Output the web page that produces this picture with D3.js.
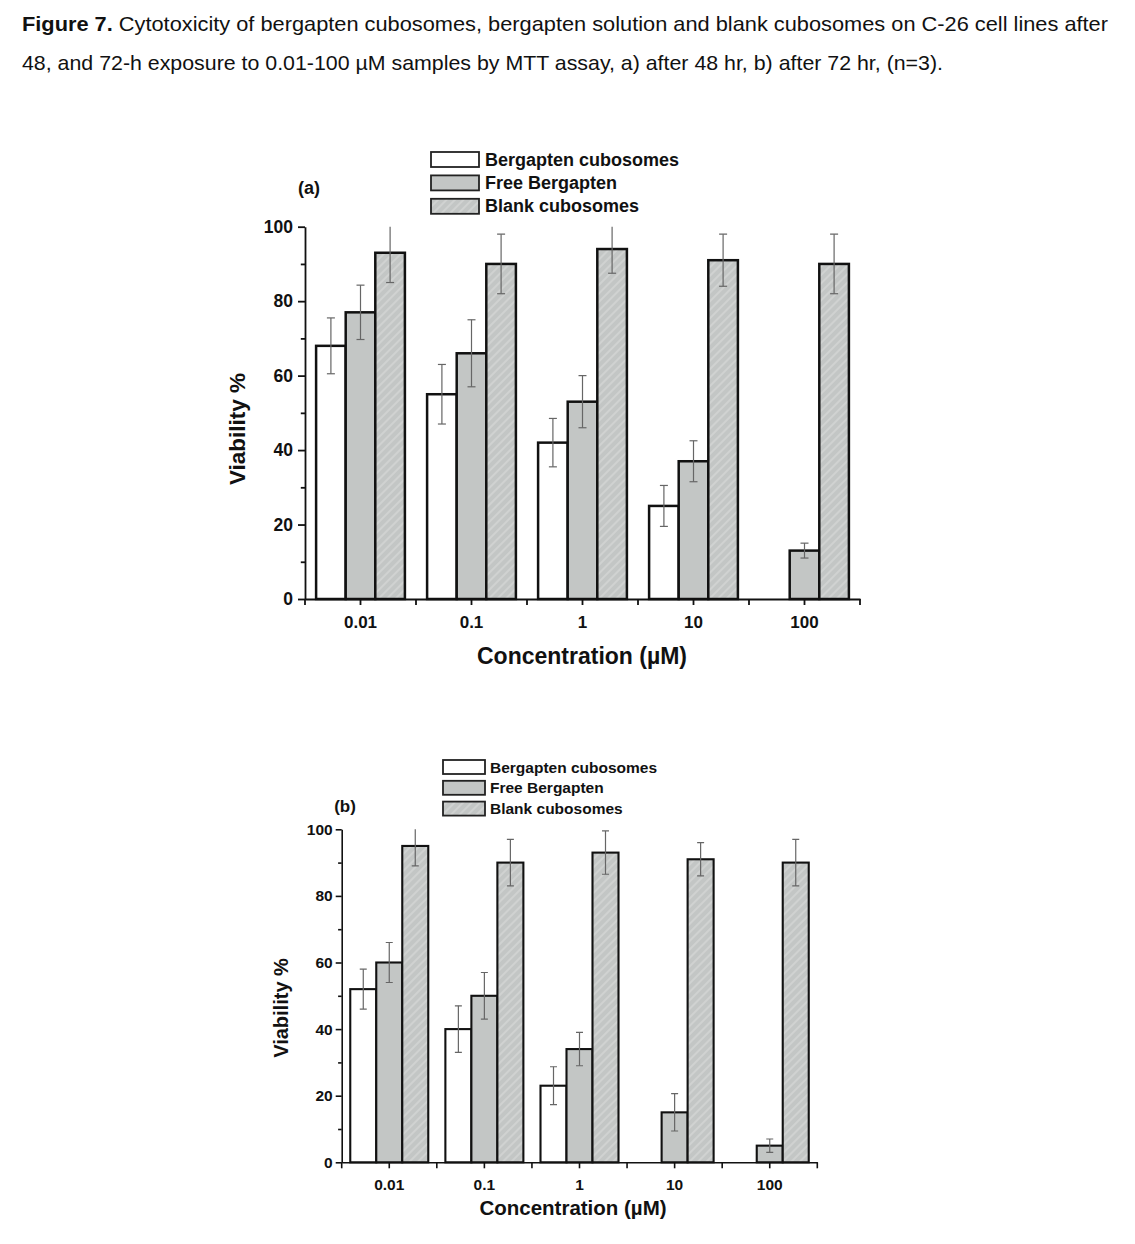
<!DOCTYPE html>
<html><head><meta charset="utf-8">
<script src="https://cdn.jsdelivr.net/npm/d3@7"></script>
<style>body{margin:0;background:#fff}</style>
</head><body>
<svg id="c" width="1135" height="1244"></svg>
<script>
// ---------- data ----------
const categories = ["0.01", "0.1", "1", "10", "100"];
const seriesNames = ["Bergapten cubosomes", "Free Bergapten", "Blank cubosomes"];
const yTicks = [0, 20, 40, 60, 80, 100];
const yMinorTicks = [10, 30, 50, 70, 90];

// (a) after 48 hr
const bergCubA = [68, 55, 42, 25, null];
const freeBergA = [77, 66, 53, 37, 13];
const blankCubA = [93, 90, 94, 91, 90];
const bergCubErrA = [7.5, 8, 6.5, 5.5, null];
const freeBergErrA = [7.3, 9, 7, 5.5, 2];
const blankCubErrA = [8, 8, 6.5, 7, 8];

// (b) after 72 hr
const bergCubB = [52, 40, 23, null, null];
const freeBergB = [60, 50, 34, 15, 5];
const blankCubB = [95, 90, 93, 91, 90];
const bergCubErrB = [6, 7, 5.7, null, null];
const freeBergErrB = [6, 7, 5, 5.6, 2];
const blankCubErrB = [6, 7, 6.5, 5, 7];

const captionLine1Bold = "Figure 7.";
const captionLine1 = " Cytotoxicity of bergapten cubosomes, bergapten solution and blank cubosomes on C-26 cell lines after";
const captionLine2 = "48, and 72-h exposure to 0.01-100 \u00b5M samples by MTT assay, a) after 48 hr, b) after 72 hr, (n=3).";

// ---------- drawing ----------
const svg = d3.select("#c");
const defs = svg.append("defs");
const GRAY = "#c3c6c5";
const hatch = defs.append("pattern").attr("id", "hatch")
  .attr("patternUnits", "userSpaceOnUse").attr("width", 6).attr("height", 6)
  .attr("patternTransform", "rotate(45)");
hatch.append("rect").attr("width", 6).attr("height", 6).attr("fill", GRAY);
hatch.append("line").attr("x1", 1).attr("y1", 0).attr("x2", 1).attr("y2", 6)
  .attr("stroke", "#dedede").attr("stroke-width", 1);
const fills = ["#ffffff", GRAY, "url(#hatch)"];

const AX_FONT = "'Liberation Sans', Arial, sans-serif";
const CAP_FONT = "'Liberation Sans Narrow', 'Liberation Sans', Arial, sans-serif";

// caption
const cap = svg.append("text").attr("x", 22).attr("y", 31)
  .attr("font-family", CAP_FONT)
  .attr("font-size", 21).attr("fill", "#111")
  .attr("textLength", 1086).attr("lengthAdjust", "spacingAndGlyphs");
cap.append("tspan").attr("font-weight", "bold").text(captionLine1Bold);
cap.append("tspan").text(captionLine1);
svg.append("text").attr("x", 22).attr("y", 70)
  .attr("font-family", CAP_FONT)
  .attr("font-size", 21).attr("fill", "#111")
  .attr("textLength", 921).attr("lengthAdjust", "spacingAndGlyphs")
  .text(captionLine2);

function drawChart(o) {
  const g = svg.append("g");
  const y = d3.scaleLinear().domain([0, 100]).range([o.yBot, o.yTop]);
  const x = d3.scaleBand().domain(categories).range([o.x0, o.x1]);
  const bw = x.bandwidth();
  const xs = d3.scaleBand().domain(seriesNames).range([bw * o.inner, bw * (1 - o.inner)]);

  const rows = [];
  categories.forEach((c, i) => {
    seriesNames.forEach((s, j) => {
      const v = o.values[j][i];
      if (v !== null) rows.push({ c, s, j, v, e: o.errs[j][i] });
    });
  });

  // bars
  g.append("g").selectAll("rect").data(rows).join("rect")
    .attr("x", d => x(d.c) + xs(d.s))
    .attr("y", d => y(d.v))
    .attr("width", xs.bandwidth())
    .attr("height", d => y(0) - y(d.v))
    .attr("fill", d => fills[d.j])
    .attr("stroke", "#111").attr("stroke-width", o.barSW);

  // error bars (clipped to plot)
  const clipId = "clip" + o.id;
  defs.append("clipPath").attr("id", clipId).append("rect")
    .attr("x", o.x0).attr("y", o.yTop).attr("width", o.x1 - o.x0).attr("height", o.yBot - o.yTop);
  const eg = g.append("g").attr("clip-path", `url(#${clipId})`)
    .attr("stroke", "#666").attr("stroke-width", 1.2).attr("fill", "none");
  rows.filter(d => d.e !== null).forEach(d => {
    const cx = x(d.c) + xs(d.s) + xs.bandwidth() / 2;
    const t = y(d.v + d.e), b = y(d.v - d.e);
    eg.append("line").attr("x1", cx).attr("x2", cx).attr("y1", t).attr("y2", b);
    eg.append("line").attr("x1", cx - o.capW / 2).attr("x2", cx + o.capW / 2).attr("y1", t).attr("y2", t);
    eg.append("line").attr("x1", cx - o.capW / 2).attr("x2", cx + o.capW / 2).attr("y1", b).attr("y2", b);
  });

  // x axis
  const gx = g.append("g").attr("transform", `translate(0,${o.yBot})`)
    .call(d3.axisBottom(x).tickSize(o.xTick).tickPadding(o.xPad).tickSizeOuter(0));
  const bounds = categories.map(c => x(c)).concat([x.range()[1]]);
  gx.selectAll(".bound").data(bounds).join("line").attr("class", "bound")
    .attr("x1", d => d).attr("x2", d => d).attr("y1", 0).attr("y2", o.xTick);
  gx.selectAll("line").attr("stroke", "#111").attr("stroke-width", o.axSW);
  gx.select(".domain").attr("stroke", "#111").attr("stroke-width", o.axSW);
  gx.selectAll("text").attr("font-family", AX_FONT).attr("font-weight", "bold")
    .attr("font-size", o.tickFont).attr("fill", "#111");

  // y axis
  const gy = g.append("g").attr("transform", `translate(${o.x0},0)`)
    .call(d3.axisLeft(y).tickValues(yTicks).tickSize(o.yTick).tickPadding(o.yPad).tickSizeOuter(0));
  const gym = g.append("g").attr("transform", `translate(${o.x0},0)`)
    .call(d3.axisLeft(y).tickValues(yMinorTicks).tickSize(o.yTick * 0.6).tickFormat(""));
  gym.select(".domain").remove();
  [gy, gym].forEach(a => {
    a.selectAll("line").attr("stroke", "#111").attr("stroke-width", o.axSW);
    a.select(".domain").attr("stroke", "#111").attr("stroke-width", o.axSW);
  });
  gy.selectAll("text").attr("font-family", AX_FONT).attr("font-weight", "bold")
    .attr("font-size", o.yTickFont).attr("fill", "#111");

  // axis titles
  g.append("text").attr("x", o.xTitleX).attr("y", o.xTitleY)
    .attr("text-anchor", "middle").attr("font-family", AX_FONT).attr("font-weight", "bold")
    .attr("font-size", o.xTitleFont).attr("fill", "#111").text("Concentration (\u00b5M)");
  g.append("text").attr("transform", `translate(${o.yTitleX},${o.yTitleY}) rotate(-90)`)
    .attr("text-anchor", "middle").attr("dominant-baseline", "central")
    .attr("font-family", AX_FONT).attr("font-weight", "bold")
    .attr("font-size", o.yTitleFont).attr("fill", "#111").text("Viability %");

  // panel label
  g.append("text").attr("x", o.panelX).attr("y", o.panelY).attr("text-anchor", "middle")
    .attr("font-family", AX_FONT).attr("font-weight", "bold").attr("font-size", o.panelFont)
    .attr("fill", "#111").text(o.panel);

  // legend
  const lg = g.append("g");
  seriesNames.forEach((s, i) => {
    lg.append("rect").attr("x", o.legX).attr("y", o.legY + i * o.legDy)
      .attr("width", o.legW).attr("height", o.legH)
      .attr("fill", fills[i]).attr("stroke", "#222").attr("stroke-width", 1.8);
    lg.append("text").attr("x", o.legX + o.legW + o.legGap)
      .attr("y", o.legY + i * o.legDy + o.legH / 2).attr("dominant-baseline", "central")
      .attr("font-family", AX_FONT).attr("font-weight", "bold")
      .attr("font-size", o.legFont).attr("fill", "#111").text(s);
  });
}

drawChart({
  id: "a", panel: "(a)",
  values: [bergCubA, freeBergA, blankCubA],
  errs: [bergCubErrA, freeBergErrA, blankCubErrA],
  x0: 305, x1: 860, yTop: 226.7, yBot: 599,
  inner: 0.1, barSW: 2.5, axSW: 1.8, capW: 8,
  xTick: 6, xPad: 11, tickFont: 17,
  yTick: 7, yPad: 5, yTickFont: 17.5,
  xTitleX: 582, xTitleY: 664, xTitleFont: 23,
  yTitleX: 237, yTitleY: 429, yTitleFont: 22.5,
  panelX: 309, panelY: 194, panelFont: 18,
  legX: 431, legY: 152, legDy: 23.4, legW: 48, legH: 15, legGap: 6, legFont: 18
});

drawChart({
  id: "b", panel: "(b)",
  values: [bergCubB, freeBergB, blankCubB],
  errs: [bergCubErrB, freeBergErrB, blankCubErrB],
  x0: 341.7, x1: 817.3, yTop: 829.3, yBot: 1162.3,
  inner: 0.09, barSW: 2.1, axSW: 1.6, capW: 7,
  xTick: 6, xPad: 11, tickFont: 15.5,
  yTick: 6, yPad: 3, yTickFont: 15.5,
  xTitleX: 573, xTitleY: 1215, xTitleFont: 20.5,
  yTitleX: 281, yTitleY: 1008, yTitleFont: 20,
  panelX: 345, panelY: 812, panelFont: 17,
  legX: 443, legY: 760, legDy: 20.8, legW: 42, legH: 14, legGap: 5, legFont: 15.5
});
</script>
</body></html>
